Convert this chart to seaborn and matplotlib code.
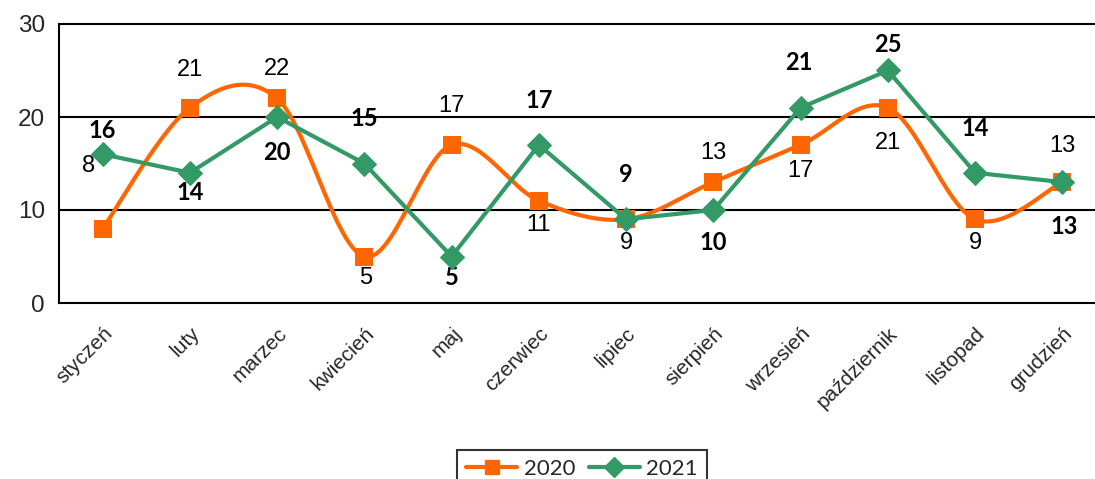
import numpy as np
import pandas as pd
import matplotlib
matplotlib.use("Agg")
import matplotlib.pyplot as plt
import seaborn as sns
from matplotlib.lines import Line2D

months = ['styczeń', 'luty', 'marzec', 'kwiecień', 'maj', 'czerwiec', 'lipiec',
          'sierpień', 'wrzesień', 'październik', 'listopad', 'grudzień']
v2020 = [8, 21, 22, 5, 17, 11, 9, 13, 17, 21, 9, 13]
v2021 = [16, 14, 20, 15, 5, 17, 9, 10, 21, 25, 14, 13]

# label offsets in pixels (dx, dy), dy up positive
off2020 = [(-14, 63), (0, 38), (0, 29), (1, -21), (0, 39), (0, -24), (0, -24),
           (0, 29), (0, -26), (0, -35), (0, -24), (0, 36)]
off2021 = [(0, 24), (0, -20), (0, -35), (0, 45), (0, -21), (0, 44), (0, 45),
           (0, -33), (-2, 45), (0, 26), (0, 44), (2, -44)]

orange = '#FF6600'
green = '#339966'

sns.set_style('white')
plt.rcParams['font.family'] = ['Liberation Sans', 'DejaVu Sans']

df = pd.DataFrame({'x': np.arange(12), 'm': months, '2020': v2020, '2021': v2021})

fig = plt.figure(figsize=(10.95, 4.79), dpi=100)
ax = fig.add_axes([59 / 1095, 1 - 303 / 479, 1047 / 1095, 279 / 479])


# smoothed line like Excel (Catmull-Rom bezier)
def smooth(xs, ys, n=30):
    pts = np.column_stack([xs, ys]).astype(float)
    out = []
    for i in range(len(pts) - 1):
        p0 = pts[i - 1] if i > 0 else pts[i]
        p1 = pts[i]
        p2 = pts[i + 1]
        p3 = pts[i + 2] if i + 2 < len(pts) else pts[i + 1]
        c1 = p1 + (p2 - p0) / 6
        c2 = p2 - (p3 - p1) / 6
        t = np.linspace(0, 1, n)[:, None]
        seg = (1 - t) ** 3 * p1 + 3 * (1 - t) ** 2 * t * c1 + 3 * (1 - t) * t ** 2 * c2 + t ** 3 * p2
        out.append(seg if i == 0 else seg[1:])
    s = np.vstack(out)
    return s[:, 0], s[:, 1]


sx, sy = smooth(df['x'], df['2020'])
sns.lineplot(x=sx, y=sy, sort=False, color=orange, lw=3, ax=ax, zorder=3)
sns.scatterplot(x=df['x'], y=df['2020'], marker='s', s=170, color=orange, edgecolor=orange,
                linewidth=0, ax=ax, zorder=4)
sns.lineplot(data=df, x='x', y='2021', color=green, lw=3, marker='D', markersize=12,
             markeredgecolor=green, ax=ax, zorder=5)

for i in range(12):
    ax.annotate(str(v2020[i]), (i, v2020[i]), xytext=off2020[i], textcoords='offset pixels',
                ha='center', va='center', fontsize=17, color='black')
    ax.annotate(str(v2021[i]), (i, v2021[i]), xytext=off2021[i], textcoords='offset pixels',
                ha='center', va='center', fontsize=17, fontweight='bold', color='black',
                family=['Lato', 'DejaVu Sans'])

ax.set_xlim(-0.5, 11.5)
ax.set_ylim(0, 30)
ax.set_yticks([0, 10, 20, 30])
ax.set_yticklabels(['0', '10', '20', '30'], fontsize=17.5)
ax.set_xticks(np.arange(12))
ax.set_xticklabels(months, rotation=45, ha='right', rotation_mode='anchor', fontsize=15)
ax.set_xticks(np.arange(-0.5, 12, 1), minor=True)
ax.tick_params(axis='x', which='major', length=0, pad=15)
ax.tick_params(axis='x', which='minor', length=6, width=1.5, color='black', direction='out')
ax.tick_params(axis='y', length=6, width=1.5, color='black', direction='out', pad=4)
ax.set_xlabel('')
ax.set_ylabel('')

ax.grid(False)
for y in [10, 20, 30]:
    ax.axhline(y, color='black', lw=1.5, zorder=1, clip_on=False)
for s in ['top', 'right']:
    ax.spines[s].set_visible(False)
for s in ['left', 'bottom']:
    ax.spines[s].set_color('black')
    ax.spines[s].set_linewidth(1.5)

handles = [Line2D([], [], color=orange, lw=3, marker='s', markersize=10),
           Line2D([], [], color=green, lw=3, marker='D', markersize=10)]
leg = fig.legend(handles, ['2020', '2021'], loc='upper center', ncol=2,
                 bbox_to_anchor=(582 / 1095, 1 - 439 / 479), frameon=True, fancybox=False,
                 prop={'family': 'Lato', 'size': 16}, handlelength=2.3, columnspacing=0.6,
                 handletextpad=0.3, borderpad=0.4)
leg.get_frame().set_edgecolor('black')
leg.get_frame().set_linewidth(1.5)

fig.savefig('out.png', dpi=100)
